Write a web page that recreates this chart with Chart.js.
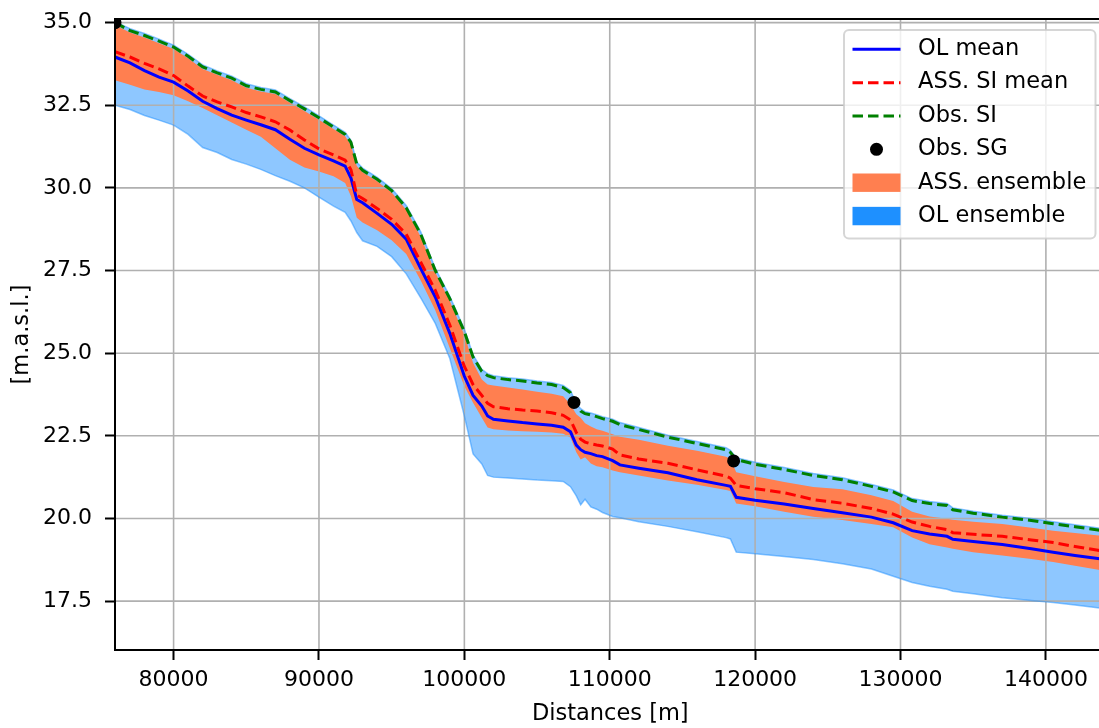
<!DOCTYPE html>
<html>
<head>
<meta charset="utf-8">
<script src="https://cdn.jsdelivr.net/npm/chart.js@4.4.1/dist/chart.umd.min.js"></script>
<style>
  html, body { margin: 0; padding: 0; background: #fff; overflow: hidden; width: 1099px; height: 728px; }
  canvas { display: block; }
</style>
</head>
<body>
<canvas id="profile" width="1112" height="728" style="width:1112px;height:728px"></canvas>
<script>
// Longitudinal water-level profile along the river (distance in metres, level in m a.s.l.)
const distances = [
  75970, 77000, 78000, 79000, 80000, 81000, 82000, 83000, 84000, 85000,
  86000, 87000, 88000, 89000, 90000, 91000, 91800, 92200, 92600, 93000,
  94000, 95000, 96000, 97000, 98000, 99000, 100000, 100600, 101200, 101600,
  102000, 103000, 104000, 105000, 106000, 106800, 107300, 107700, 108000, 108300,
  108700, 109100, 109500, 110200, 110700, 112000, 114000, 116000, 118000, 118300,
  118700, 120000, 122000, 124000, 126000, 128000, 129500, 130800, 132000, 133200,
  133600, 135000, 137000, 139000, 140500, 142000, 144100
];

// Open-loop ensemble mean
const olMean = [
  33.96, 33.78, 33.55, 33.35, 33.2, 32.93, 32.62, 32.4, 32.2, 32.05,
  31.91, 31.76, 31.47, 31.2, 31.0, 30.82, 30.66, 30.3, 29.65, 29.55,
  29.23, 28.9, 28.45, 27.56, 26.7, 25.6, 24.3, 23.72, 23.4, 23.1,
  23.0, 22.95, 22.9, 22.86, 22.82, 22.76, 22.62, 22.22, 22.08, 22.0,
  21.96, 21.9, 21.87, 21.75, 21.62, 21.52, 21.38, 21.17, 21.0, 20.97,
  20.64, 20.55, 20.44, 20.3, 20.17, 20.04, 19.87, 19.63, 19.53, 19.46,
  19.37, 19.3, 19.21, 19.08, 18.98, 18.88, 18.76
];

// Assimilated (SI) ensemble mean
const assMean = [
  34.12, 33.96, 33.77, 33.6, 33.4, 33.08, 32.78, 32.6, 32.45, 32.28,
  32.15, 32.0, 31.75, 31.45, 31.18, 31.0, 30.84, 30.55, 29.78, 29.68,
  29.38, 29.05, 28.6, 27.75, 26.9, 25.85, 24.6, 24.05, 23.72, 23.48,
  23.38, 23.32, 23.28, 23.25, 23.2, 23.12, 22.98, 22.6, 22.4, 22.31,
  22.26, 22.22, 22.19, 22.1, 21.92, 21.8, 21.67, 21.47, 21.28, 21.22,
  21.0, 20.9, 20.78, 20.57, 20.46, 20.3, 20.13, 19.89, 19.76, 19.66,
  19.57, 19.52, 19.46, 19.35, 19.27, 19.15, 19.0
];

// Observed SI water level
const obsSI = [
  35.0, 34.76, 34.61, 34.44, 34.26, 33.98, 33.66, 33.48, 33.32, 33.09,
  32.98, 32.9, 32.64, 32.39, 32.12, 31.84, 31.62, 31.38, 30.72, 30.53,
  30.26, 29.92, 29.4, 28.6, 27.5, 26.65, 25.65, 24.88, 24.45, 24.32,
  24.26, 24.2, 24.16, 24.1, 24.05, 23.96, 23.8, 23.42, 23.25, 23.17,
  23.13, 23.08, 23.02, 22.94, 22.84, 22.69, 22.46, 22.27, 22.08, 22.0,
  21.78, 21.64, 21.48, 21.3, 21.17, 20.97, 20.8, 20.54, 20.45, 20.39,
  20.26, 20.16, 20.04, 19.94, 19.84, 19.75, 19.62
];

// Assimilated ensemble envelope
const assMax = [
  34.93, 34.7, 34.55, 34.38, 34.2, 33.92, 33.6, 33.42, 33.26, 33.03,
  32.92, 32.84, 32.58, 32.33, 32.06, 31.78, 31.56, 31.3, 30.66, 30.47,
  30.2, 29.86, 29.34, 28.52, 27.44, 26.58, 25.55, 24.7, 24.2, 24.05,
  24.02, 23.96, 23.9, 23.83, 23.77, 23.7, 23.45, 23.15, 23.05, 22.88,
  22.78, 22.7, 22.65, 22.55, 22.47, 22.38, 22.2, 22.05, 21.87, 21.8,
  21.4, 21.28, 21.1, 20.95, 20.88, 20.7, 20.53, 20.2, 20.06, 19.99,
  19.96, 19.9, 19.83, 19.72, 19.63, 19.56, 19.46
];
const assMin = [
  33.26, 33.12, 32.98, 32.9, 32.8, 32.62, 32.42, 32.2, 31.98, 31.76,
  31.55, 31.2, 30.85, 30.62, 30.5, 30.35, 30.15, 29.75, 29.1, 28.95,
  28.72, 28.42, 28.0, 27.2, 26.3, 25.15, 24.0, 23.5, 23.05, 22.75,
  22.7, 22.66, 22.64, 22.62, 22.6, 22.56, 22.45, 22.0, 21.78, 21.85,
  21.66, 21.58, 21.55, 21.45, 21.4, 21.3, 21.15, 21.02, 20.86, 20.83,
  20.45, 20.37, 20.2, 20.05, 19.95, 19.83, 19.73, 19.42, 19.22, 19.12,
  19.08, 18.98, 18.88, 18.77, 18.68, 18.57, 18.41
];

// Open-loop ensemble envelope
const olMax = [
  35.03, 34.82, 34.67, 34.5, 34.32, 34.04, 33.72, 33.54, 33.38, 33.15,
  33.04, 32.96, 32.7, 32.45, 32.18, 31.9, 31.68, 31.44, 30.78, 30.6,
  30.32, 29.98, 29.47, 28.67, 27.57, 26.72, 25.72, 24.95, 24.51, 24.38,
  24.32, 24.26, 24.22, 24.16, 24.11, 24.02, 23.87, 23.48, 23.32, 23.23,
  23.19, 23.14, 23.08, 23.0, 22.9, 22.75, 22.52, 22.33, 22.14, 22.06,
  21.84, 21.7, 21.54, 21.36, 21.23, 21.03, 20.86, 20.6, 20.51, 20.45,
  20.32, 20.22, 20.1, 20.0, 19.9, 19.81, 19.68
];
const olMin = [
  32.5, 32.37, 32.19, 32.05, 31.9, 31.62, 31.22, 31.07, 30.86, 30.72,
  30.56, 30.37, 30.2, 30.0, 29.72, 29.45, 29.26, 29.0, 28.65, 28.4,
  28.23, 27.92, 27.4, 26.67, 25.9, 24.84, 23.1, 21.95, 21.65, 21.3,
  21.25, 21.22, 21.19, 21.16, 21.14, 21.12, 20.96, 20.68, 20.41, 20.58,
  20.35, 20.28, 20.18, 20.06, 20.02, 19.9, 19.76, 19.6, 19.42, 19.38,
  18.98, 18.93, 18.85, 18.76, 18.63, 18.47, 18.25, 18.06, 17.95, 17.86,
  17.8, 17.72, 17.6, 17.52, 17.46, 17.38, 17.27
];

// Gauge (SG) observations
const sgDistances = [75970, 107540, 118520];
const sgLevels = [35.0, 23.51, 21.74];

// Axis ticks
const xTicks = [80000, 90000, 100000, 110000, 120000, 130000, 140000];
const yTicks = [17.5, 20.0, 22.5, 25.0, 27.5, 30.0, 32.5, 35.0];

const FONT = 'DejaVu Sans';
const TICK_SIZE = 22;
const TEXT_SIZE = 22.5;
const toPoints = (xs, ys) => xs.map((x, i) => ({ x: x, y: ys[i] }));

// Grid drawn after the ensemble fills but below the lines
const gridOverFill = {
  id: 'gridOverFill',
  beforeDatasetsDraw(chart) {
    const { ctx, chartArea: a, scales } = chart;
    ctx.save();
    ctx.beginPath();
    ctx.rect(a.left, a.top, a.right - a.left, a.bottom - a.top);
    ctx.clip();
    ctx.strokeStyle = '#b0b0b0';
    ctx.lineWidth = 1.6;
    ctx.beginPath();
    xTicks.forEach(v => {
      const p = scales.x.getPixelForValue(v);
      ctx.moveTo(p, a.top); ctx.lineTo(p, a.bottom);
    });
    yTicks.forEach(v => {
      const p = scales.y.getPixelForValue(v);
      ctx.moveTo(a.left, p); ctx.lineTo(a.right, p);
    });
    ctx.stroke();
    ctx.restore();
  }
};

// Axes frame (left, bottom, top spines)
const frame = {
  id: 'frame',
  afterDatasetsDraw(chart) {
    const { ctx, chartArea: a } = chart;
    ctx.save();
    ctx.strokeStyle = '#000';
    ctx.lineWidth = 2;
    ctx.lineCap = 'square';
    ctx.beginPath();
    ctx.moveTo(a.left, a.top); ctx.lineTo(a.right, a.top);
    ctx.moveTo(a.left, a.top); ctx.lineTo(a.left, a.bottom);
    ctx.lineTo(a.right, a.bottom);
    ctx.stroke();
    ctx.restore();
  }
};

// Legend box in the upper right corner
const legendEntries = [
  { label: 'OL mean', kind: 'line', color: '#0000ff', dash: [] },
  { label: 'ASS. SI mean', kind: 'line', color: '#ff0000', dash: [10.5, 5] },
  { label: 'Obs. SI', kind: 'line', color: '#008000', dash: [10.5, 5] },
  { label: 'Obs. SG', kind: 'dot', color: '#000000' },
  { label: 'ASS. ensemble', kind: 'patch', color: '#ff7f50' },
  { label: 'OL ensemble', kind: 'patch', color: '#1e90ff' }
];
const boxLegend = {
  id: 'boxLegend',
  afterDraw(chart) {
    const { ctx, chartArea: a } = chart;
    const w = 251.5, h = 208.5;
    const x0 = a.right - 10 - w, y0 = a.top + 11;
    ctx.save();
    ctx.beginPath();
    ctx.roundRect(x0, y0, w, h, 5);
    ctx.fillStyle = 'rgba(255,255,255,0.8)';
    ctx.fill();
    ctx.lineWidth = 2;
    ctx.strokeStyle = 'rgba(204,204,204,0.8)';
    ctx.stroke();
    const hx0 = x0 + 8.5, hx1 = x0 + 56.5, tx = x0 + 74;
    ctx.font = TEXT_SIZE + 'px "' + FONT + '"';
    ctx.textBaseline = 'middle';
    ctx.textAlign = 'left';
    legendEntries.forEach((e, i) => {
      const cy = y0 + 19.3 + i * 33.35;
      if (e.kind === 'line') {
        ctx.strokeStyle = e.color;
        ctx.lineWidth = 3;
        ctx.setLineDash(e.dash);
        ctx.beginPath();
        ctx.moveTo(hx0, cy); ctx.lineTo(hx1, cy);
        ctx.stroke();
        ctx.setLineDash([]);
      } else if (e.kind === 'dot') {
        ctx.fillStyle = e.color;
        ctx.beginPath();
        ctx.arc((hx0 + hx1) / 2, cy, 6.5, 0, Math.PI * 2);
        ctx.fill();
      } else {
        ctx.fillStyle = e.color;
        ctx.fillRect(hx0, cy - 9.2, hx1 - hx0, 18.4);
      }
      ctx.fillStyle = '#000';
      ctx.fillText(e.label, tx, cy);
    });
    ctx.restore();
  }
};

const noLine = 'rgba(0,0,0,0)';
const bandEdge = 'rgba(30,144,255,0.5)';

new Chart(document.getElementById('profile'), {
  type: 'line',
  data: {
    datasets: [
      { label: 'OL ensemble min', data: toPoints(distances, olMin), borderColor: bandEdge, borderWidth: 1.5,
        fill: false, pointRadius: 0, order: 10, clip: 0 },
      { label: 'OL ensemble', data: toPoints(distances, olMax), borderColor: bandEdge, borderWidth: 1.5,
        backgroundColor: 'rgba(30,144,255,0.5)', fill: '-1', pointRadius: 0, order: 10, clip: 0 },
      { label: 'ASS. ensemble min', data: toPoints(distances, assMin), borderColor: noLine, borderWidth: 1,
        fill: false, pointRadius: 0, order: 9, clip: 0 },
      { label: 'ASS. ensemble', data: toPoints(distances, assMax), borderColor: noLine, borderWidth: 1,
        backgroundColor: '#ff7f50', fill: '-1', pointRadius: 0, order: 9, clip: 0 },
      { label: 'OL mean', data: toPoints(distances, olMean), borderColor: '#0000ff', borderWidth: 3,
        fill: false, pointRadius: 0, order: 4, clip: 0 },
      { label: 'ASS. SI mean', data: toPoints(distances, assMean), borderColor: '#ff0000', borderWidth: 3,
        borderDash: [10.5, 5], fill: false, pointRadius: 0, order: 3, clip: 0 },
      { label: 'Obs. SI', data: toPoints(distances, obsSI), borderColor: '#008000', borderWidth: 3,
        borderDash: [10.5, 5], fill: false, pointRadius: 0, order: 2, clip: 0 },
      { label: 'Obs. SG', data: toPoints(sgDistances, sgLevels), showLine: false, fill: false,
        pointRadius: 6.5, pointBackgroundColor: '#000', pointBorderColor: '#000', pointBorderWidth: 0,
        order: 1, clip: 0 }
    ]
  },
  options: {
    responsive: false,
    devicePixelRatio: 1,
    animation: false,
    events: [],
    // the plot frame runs a few pixels past the visible right border
    layout: { padding: { left: 0, top: 19, right: 1, bottom: 0 } },
    elements: { line: { tension: 0 } },
    plugins: {
      legend: { display: false },
      tooltip: { enabled: false },
      filler: { drawTime: 'beforeDatasetsDraw' }
    },
    scales: {
      x: {
        type: 'linear',
        min: 75970,
        max: 144100,
        afterBuildTicks: ax => { ax.ticks = xTicks.map(v => ({ value: v })); },
        afterFit: ax => { ax.height = 78; ax.paddingLeft = 0; ax.paddingRight = 0; },
        grid: { drawOnChartArea: false, drawTicks: true, tickLength: 10, tickColor: '#000', tickWidth: 2 },
        border: { display: false },
        ticks: { color: '#000', font: { family: FONT, size: TICK_SIZE }, padding: 7, maxRotation: 0, autoSkip: false,
                 callback: v => String(v) },
        title: { display: true, text: 'Distances [m]', color: '#000', font: { family: FONT, size: TEXT_SIZE },
                 padding: { top: 0, bottom: 0 } }
      },
      y: {
        type: 'linear',
        min: 16.02,
        max: 35.11,
        afterBuildTicks: ax => { ax.ticks = yTicks.map(v => ({ value: v })); },
        afterFit: ax => { ax.width = 115; ax.paddingTop = 0; ax.paddingBottom = 0; },
        grid: { drawOnChartArea: false, drawTicks: true, tickLength: 10, tickColor: '#000', tickWidth: 2 },
        border: { display: false },
        ticks: { color: '#000', font: { family: FONT, size: TICK_SIZE }, padding: 13, autoSkip: false,
                 callback: v => v.toFixed(1) },
        title: { display: true, text: '[m.a.s.l.]', color: '#000', font: { family: FONT, size: TEXT_SIZE },
                 padding: { top: 9, bottom: 0 } }
      }
    }
  },
  plugins: [gridOverFill, frame, boxLegend]
});
</script>
</body>
</html>
